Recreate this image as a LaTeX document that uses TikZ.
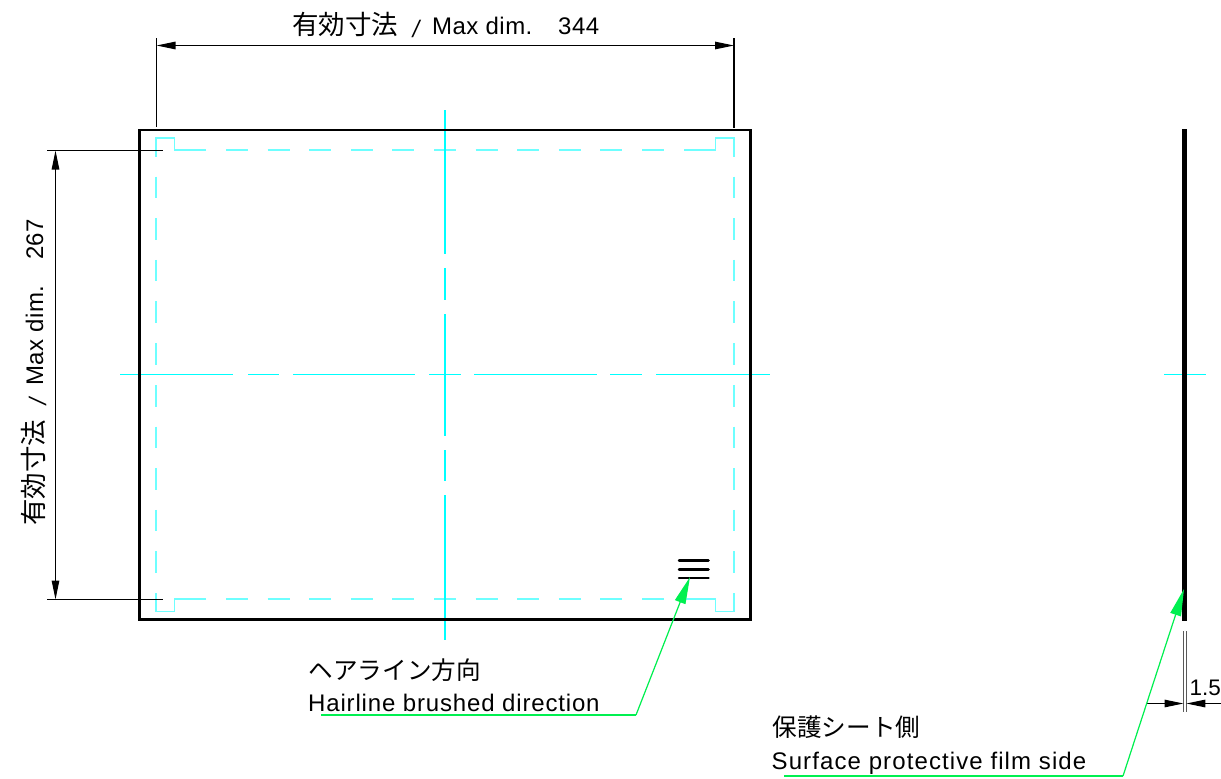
\documentclass[tikz,border=0pt]{standalone}
\usepackage{graphicx}
\usepackage{fontspec}
\setmainfont{Liberation Sans}
\newfontfamily\jp{Noto Sans CJK JP}
\newfontfamily\ls[LetterSpace=3.5]{Liberation Sans}
\newfontfamily\lsb[LetterSpace=4.6]{Liberation Sans}
\newfontfamily\lsd[LetterSpace=2]{Liberation Sans}
\usetikzlibrary{arrows.meta}
\definecolor{cy}{RGB}{0,255,255}
\definecolor{lcy}{RGB}{110,255,255}
\definecolor{gr}{RGB}{0,240,80}
\newcommand{\lat}{\fontsize{24pt}{24pt}\selectfont\ls}
\newcommand{\latb}{\fontsize{24pt}{24pt}\selectfont\lsb}
\newcommand{\latd}{\fontsize{24pt}{24pt}\selectfont\lsd}
\newcommand{\jpt}{\fontsize{24.6pt}{24.6pt}\selectfont\jp}
\newcommand{\dimstem}{\makebox[119pt][l]{\fontsize{26.5pt}{26.5pt}\selectfont\jp 有効寸法}\makebox[21pt][l]{\scalebox{1.5}[1]{\fontsize{18pt}{18pt}\selectfont\jp /}}\makebox[126pt][l]{\latd Max dim.}}
\tikzset{
  outline/.style={draw=black,line width=2.6pt},
  thinblk/.style={draw=black,line width=1.2pt},
  arrowboth/.style={draw=black,line width=1.2pt,{Triangle[length=19pt,width=7.5pt]}-{Triangle[length=19pt,width=7.5pt]}},
  arrowone/.style={draw=black,line width=1.2pt,-{Triangle[length=19pt,width=7.5pt]}},
  centerln/.style={draw=cy,line width=1.9pt},
  hid/.style={draw=lcy,line width=1.4pt},
  lead/.style={draw=gr,line width=1.2pt},
  leadarrow/.style={draw=gr,fill=gr,line width=1.2pt,-{Triangle[length=27pt,width=11pt]}},
  txt/.style={inner sep=0pt,anchor=base west,text=black}
}
\begin{document}
\begin{tikzpicture}[x=1pt,y=-1pt]
\useasboundingbox (0,0) rectangle (1221,779);
\fill[white] (0,0) rectangle (1221,779);
% hidden outline: corner notches
\draw[hid] (206,150)--(174.5,150)--(174.5,138)--(156,138)--(156,157);
\draw[hid] (684,150)--(715.5,150)--(715.5,138)--(734,138)--(734,157);
\draw[hid] (206,599)--(174.5,599)--(174.5,611.5)--(156,611.5)--(156,593);
\draw[hid] (684,599)--(715.5,599)--(715.5,611.5)--(734,611.5)--(734,593);
% hidden outline: dashes
\foreach \yy in {150,599}{
  \foreach \xa in {226,267.6,309.2,350.8,392.4,434,475.6,517.2,558.8,600.4,642}{
    \draw[hid] (\xa,\yy)--({\xa+22},\yy);
  }
}
\foreach \xx in {156,734}{
  \foreach \ya in {176.6,218.2,259.8,301.4,343,385,426.6,468.2,509.8,551.4}{
    \draw[hid] (\xx,\ya)--(\xx,{\ya+21.5});
  }
}
% centre lines
\draw[centerln] (120,374.5)--(233,374.5) (248,374.5)--(279,374.5) (293,374.5)--(415,374.5) (429,374.5)--(461,374.5) (474,374.5)--(597,374.5) (610,374.5)--(642,374.5) (656,374.5)--(770,374.5);
\draw[centerln] (445,110)--(445,254) (445,268)--(445,300) (445,314)--(445,436) (445,450)--(445,481) (445,495)--(445,640);
\draw[centerln] (1164,374.5)--(1206,374.5);
% plate
\draw[outline] (139.5,130) rectangle (750.5,619.5);
% side view
\draw[draw=black,line width=4.7pt] (1184.8,129)--(1184.8,620.5);
\draw[draw=black!65,line width=1.2pt] (1183.5,631)--(1183.5,712) (1186.3,631)--(1186.3,712);
% hairline symbol
\draw[draw=black,line width=2.5pt,line cap=round] (679,560.7)--(708.5,560.7) (679,569.3)--(708.5,569.3) (679,578)--(708.5,578);
% dimensions
\coordinate (tl) at (156.5,45.5); \coordinate (tr) at (734,45.5);
\coordinate (lt) at (55.5,150.5); \coordinate (lb) at (55.5,599.5);
\draw[thinblk] (156.5,38)--(156.5,127) (734,38)--(734,128);
\draw[thinblk] (47,150.5)--(163,150.5) (47,599.5)--(163,599.5);
\draw[arrowboth] (tl)--(tr);
\draw[arrowboth] (lt)--(lb);
\coordinate (thl) at (1146,703.5); \coordinate (thr) at (1221,703.5);
\draw[arrowone] (thl)--(1183.5,703.5);
\draw[arrowone] (thr)--(1186.3,703.5);
% labels
\node[txt] (lbtop) at (292,34.5) {\hbox{\dimstem\latd 344}};
\node[txt,rotate=90] (lbleft) at (43,526) {\hbox{\dimstem\latd 267}};
\node[txt] (lbth) at (1189.5,695) {\fontsize{22.5pt}{22.5pt}\selectfont 1.5};
\node[txt] (lbhairj) at (308.5,679) {\jpt ヘアライン方向};
\node[txt] (lbhaire) at (308,711.5) {\lat Hairline brushed direction};
\node[txt] (lbfilmj) at (772.5,736) {\jpt 保護シート側};
\node[txt] (lbfilme) at (771.5,769.5) {\latb Surface protective film side};
% leaders
\coordinate (h0) at (321,715); \coordinate (h1) at (636,715); \coordinate (h2) at (690,577);
\coordinate (f0) at (784,776); \coordinate (f1) at (1123,776); \coordinate (f2) at (1184,589);
\draw[lead] (h0)--(h1);
\draw[leadarrow] (h1)--(h2);
\draw[lead] (f0)--(f1);
\draw[leadarrow] (f1)--(f2);
\end{tikzpicture}
\end{document}
